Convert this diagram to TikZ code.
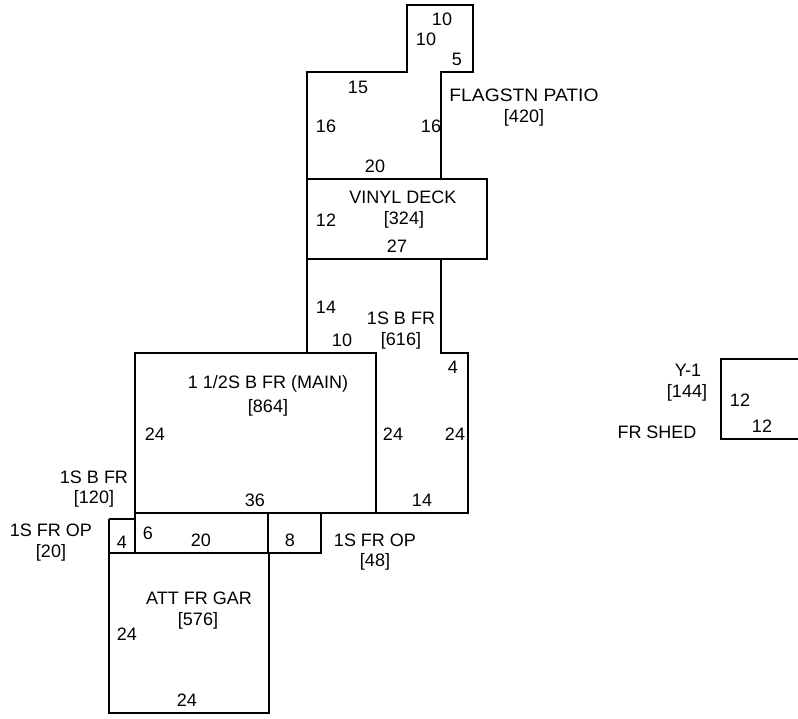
\documentclass[tikz,border=0pt]{standalone}
\usepackage{fontspec}
\setmainfont{Liberation Sans}
\begin{document}
\begin{tikzpicture}
[x=1pt,y=-1pt,
wall/.style={draw=black,line width=1.4pt},
lbl/.style={inner sep=0pt,font=\fontsize{18}{20}\selectfont}]
\useasboundingbox (0,0) rectangle (798,718);
% outlines
\draw [wall] (307,179) -- (307,72) -- (407,72) -- (407,5) -- (473,5) -- (473,72) -- (441,72) -- (441,179);
\draw [wall] (307,179) rectangle (487,259);
\draw [wall] (307,259) -- (307,353);
\draw [wall] (441,259) -- (441,353) -- (468,353) -- (468,513) -- (376,513);
\draw [wall] (135,353) rectangle (376,513);
\draw [wall] (135,513) rectangle (268,553);
\draw [wall] (268,513) -- (321,513) -- (321,553) -- (268,553);
\draw [wall] (109,519) -- (135,519);
\draw [wall] (109,519) -- (109,553) -- (135,553);
\draw [wall] (109,553) rectangle (269,713);
\draw [wall] (798,359) -- (721,359) -- (721,439) -- (798,439);
% patio
\node at (442,19) [lbl] (d1){10};
\node at (426,39) [lbl] (d2){10};
\node at (457,59) [lbl] (d3){5};
\node at (358,87) [lbl] (d4){15};
\node at (326,126) [lbl] (d5){16};
\node at (431,126) [lbl] (d6){16};
\node at (375,166) [lbl] (d7){20};
\node at (524,95) [lbl,xscale=1.07] (patio){FLAGSTN PATIO};
\node at (524,118) [lbl] (patioarea){[420]};
% deck
\node at (403,197) [lbl] (deck){VINYL DECK};
\node at (404,220) [lbl] (deckarea){[324]};
\node at (326,220) [lbl] (d8){12};
\node at (397,246) [lbl] (d9){27};
% rear
\node at (326,307) [lbl] (d10){14};
\node at (342,340) [lbl] (d11){10};
\node at (401,318) [lbl] (rear){1S B FR};
\node at (401,341) [lbl] (reararea){[616]};
\node at (453,367) [lbl] (d12){4};
\node at (393,434) [lbl] (d13){24};
\node at (455,434) [lbl] (d14){24};
\node at (422,500) [lbl] (d15){14};
% main
\node at (268,384) [lbl] (main){1 1/2S B FR (MAIN)};
\node at (268,408) [lbl] (mainarea){[864]};
\node at (155,434) [lbl] (d16){24};
\node at (255,500) [lbl] (d17){36};
% front
\node at (94,477) [lbl] (front){1S B FR};
\node at (94,499) [lbl] (frontarea){[120]};
\node at (148,533) [lbl] (d18){6};
\node at (201,540) [lbl] (d19){20};
\node at (290,540) [lbl] (d20){8};
\node at (122,542) [lbl] (d21){4};
\node at (51,530) [lbl] (porch){1S FR OP};
\node at (51,553) [lbl] (porcharea){[20]};
\node at (375,540) [lbl] (stoop){1S FR OP};
\node at (375,562) [lbl] (stooparea){[48]};
% garage
\node at (199,598) [lbl] (gar){ATT FR GAR};
\node at (198,621) [lbl] (gararea){[576]};
\node at (127,634) [lbl] (d22){24};
\node at (187,700) [lbl] (d23){24};
% shed
\node at (688,370) [lbl] (shedid){Y-1};
\node at (687,393) [lbl] (shedarea){[144]};
\node at (657,432) [lbl] (shed){FR SHED};
\node at (740,400) [lbl] (d24){12};
\node at (762,426) [lbl] (d25){12};
\end{tikzpicture}
\end{document}
